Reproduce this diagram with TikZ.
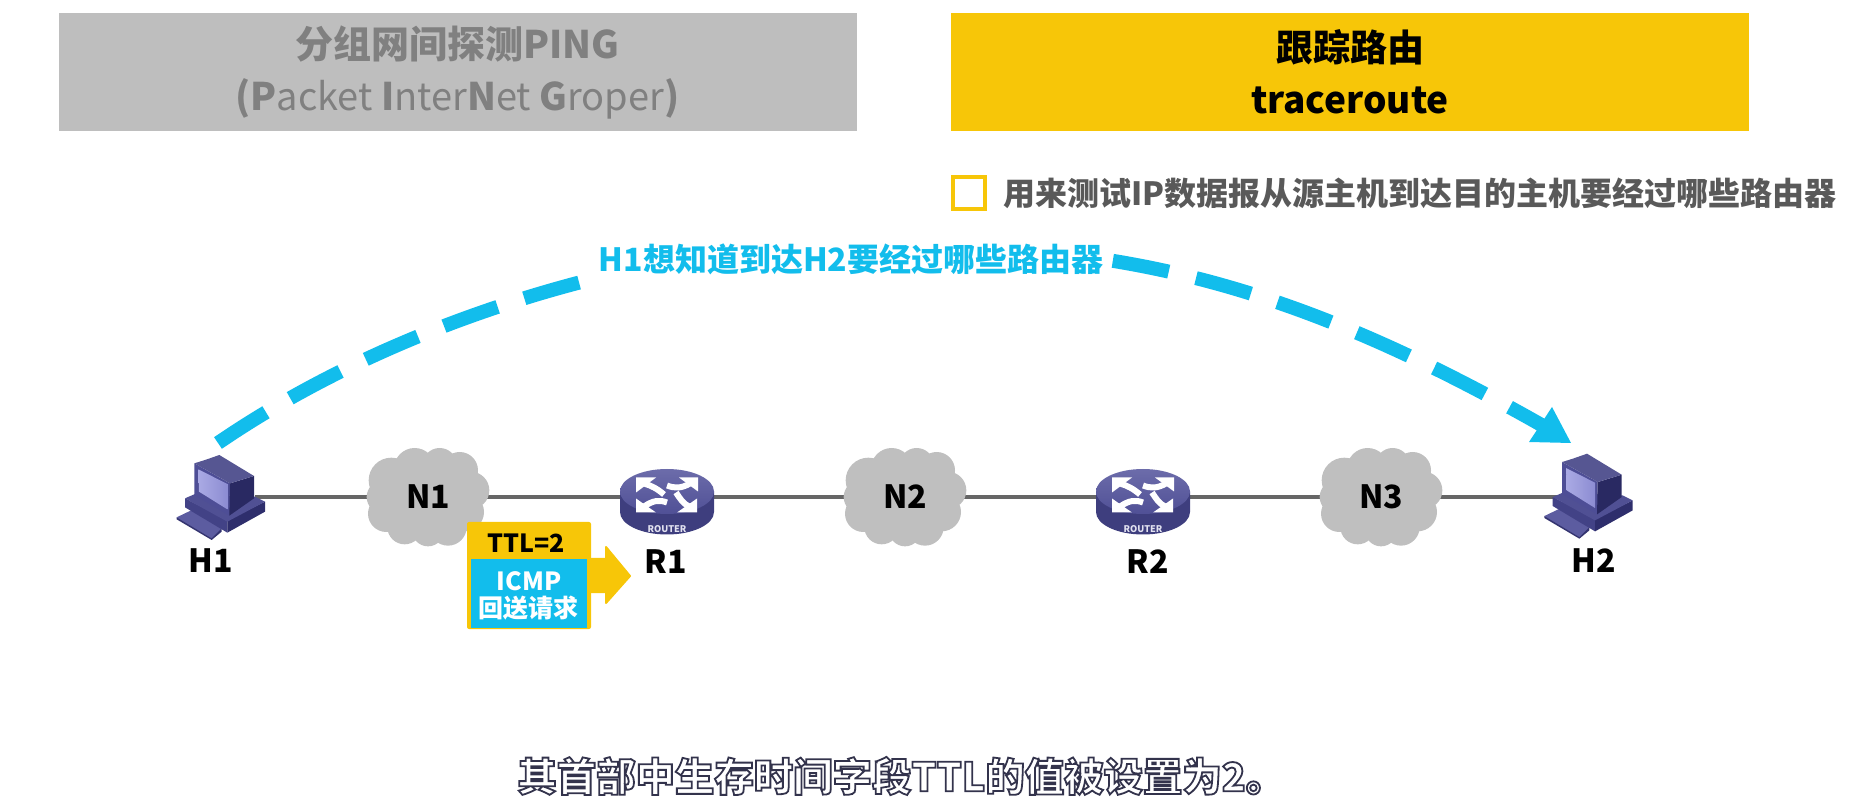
\documentclass[tikz,border=0pt]{standalone}
\usepackage{fontspec}
\setmainfont{Noto Sans CJK SC}
\definecolor{greybox}{HTML}{BEBEBE}
\definecolor{greytext}{HTML}{808080}
\definecolor{amber}{HTML}{F7C608}
\definecolor{skyb}{HTML}{12BDEC}
\definecolor{bodytext}{HTML}{595959}
\definecolor{wire}{HTML}{666666}
\definecolor{cloudg}{HTML}{BFBFBF}
\newcommand{\fsz}[2]{\fontsize{#1pt}{#2pt}\selectfont}
\tikzset{
  titlebox/.style={rectangle,minimum width=399pt,minimum height=59pt,inner sep=0pt,align=center,font=\fsz{19}{26}},
  netlabel/.style={inner sep=0pt,font=\bfseries\fsz{16}{20},text=black},
  wireline/.style={draw=wire,line width=2.4pt},
  bigarc/.style={draw=skyb,line width=7pt,dash pattern=on 28.5pt off 14pt},
  pktlabel/.style={inner sep=0pt,font=\bfseries\fsz{12.5}{15}},
  routertext/.style={inner sep=0pt,text={rgb,255:red,225;green,225;blue,240},font=\bfseries\fsz{4.6}{5}},
  routertail/.style={draw=white,line width=3pt},
}
\newcommand{\computer}[2]{%
  \begin{scope}[shift={(#1,#2)},scale=1/3]
    \fill[fill={rgb,255:red,52;green,52;blue,112}] (80,292)--(80,298)--(185,360)--(215,335)--(215,325)--cycle;
    \fill[fill={rgb,255:red,92;green,92;blue,160}] (80,292)--(130,268)--(215,325)--(185,355)--cycle;
    \fill[fill={rgb,255:red,66;green,66;blue,134}] (105,235)--(105,262)--(232,338)--(232,300)--cycle;
    \fill[fill={rgb,255:red,46;green,46;blue,108}] (232,300)--(232,338)--(345,275)--(345,245)--cycle;
    \fill[fill={rgb,255:red,80;green,80;blue,148}] (105,235)--(135,222)--(315,230)--(345,245)--(232,305)--cycle;
    \fill[fill={rgb,255:red,78;green,78;blue,150}] (133,130)--(133,225)--(238,287)--(240,190)--cycle;
    \fill[fill={rgb,255:red,41;green,41;blue,98}] (240,190)--(312,168)--(312,235)--(238,287)--cycle;
    \fill[fill={rgb,255:red,86;green,86;blue,146}] (133,130)--(165,120)--(208,105)--(312,168)--(240,190)--cycle;
    \shade[left color={rgb,255:red,170;green,170;blue,228},right color={rgb,255:red,140;green,140;blue,210}] (145,148)--(147,215)--(232,268)--(232,192)--cycle;
  \end{scope}}
\newcommand{\cloudshape}[2]{%
  \begin{scope}[shift={(#1,#2)},scale=1/3]
    \fill[cloudg] (0,0) circle (125)
      (-110,-50) circle (68) (-40,-85) circle (62) (35,-95) circle (52) (95,-80) circle (55)
      (128,-20) circle (56) (110,45) circle (58) (60,90) circle (56) (0,100) circle (48)
      (-70,90) circle (52) (-125,50) circle (55) (-134,0) circle (50);
  \end{scope}}
\newcommand{\routershape}[2]{%
  \begin{scope}[shift={(#1,#2)}]
    \fill[fill={rgb,255:red,62;green,62;blue,126}] (-47,0)--(-47,20.5) arc[x radius=47,y radius=-22.5,start angle=180,end angle=360]--(47,0)--cycle;
    \shade[top color={rgb,255:red,108;green,108;blue,170},bottom color={rgb,255:red,80;green,80;blue,150}] (0,0) ellipse [x radius=47,y radius=22.5];
    \fill[white] (-31,-14)--(-11,-14)--(-31,1)--cycle;
    \draw[routertail] (-23,-8) .. controls (-16,-6) and (-10,-3) .. (-3,3);
    \fill[white] (31,-14)--(12,-14)--(31,0)--cycle;
    \draw[routertail] (23,-8) .. controls (14,-3) and (8,-3) .. (0,-6);
    \fill[white] (-31,21)--(-11,21)--(-31,7)--cycle;
    \draw[routertail] (-23,15) .. controls (-14,9) and (-8,8) .. (0,11);
    \fill[white] (30,21)--(10,21)--(30,7)--cycle;
    \draw[routertail] (22,15) .. controls (16,12) and (13,7) .. (9,1);
  \end{scope}}
\begin{document}
\begin{tikzpicture}[x=0.5pt,y=-0.5pt]
\useasboundingbox (0,0) rectangle (1873,801);
% header boxes
\node[titlebox,fill=greybox,text=greytext] (pingbox) at (457.5,72) {{\bfseries 分组网间探测PING}\\{\bfseries(P}acket {\bfseries I}nter{\bfseries N}et {\bfseries G}roper{\bfseries)}};
\node[titlebox,fill=amber,text=black,font=\bfseries\fsz{18.5}{26}] (tracebox) at (1350,72) {跟踪路由\\traceroute};
\node[draw=amber,line width=2pt,fill=white,minimum size=16pt,inner sep=0pt] (check) at (968.5,193) {};
\node[anchor=west,inner sep=0pt,text=bodytext,font=\bfseries\fsz{16}{18}] (desc) at (1003,193) {用来测试IP数据报从源主机到达目的主机要经过哪些路由器};
% named anchors
\coordinate (h1) at (255,497);
\coordinate (n1) at (428,497);
\coordinate (r1) at (667,497);
\coordinate (n2) at (905,497);
\coordinate (r2) at (1143,497);
\coordinate (n3) at (1381,497);
\coordinate (h2) at (1560,497);
\coordinate (arcstart) at (218,443);
\coordinate (arcapex) at (850,244);
\coordinate (arcend) at (1545,427);
\coordinate (tipa) at (1529,442);
\coordinate (tipb) at (1552,407);
\coordinate (tipc) at (1571,443);
% big arc
\draw[bigarc] (arcstart) .. controls (420,305) and (680,244) .. (arcapex) .. controls (1089,244) and (1257,263) .. (arcend);
\fill[skyb] (tipa)--(tipb)--(tipc)--cycle;
\node[fill=white,inner sep=0pt,text=skyb,font=\bfseries\fsz{16}{20},minimum width=256pt,minimum height=36pt] (arclabel) at (851,259) {H1想知道到达H2要经过哪些路由器};
% network
\draw[wireline] (h1)--(n1)--(r1)--(n2)--(r2)--(n3)--(h2);
\computer{150}{420}
\computer{1517.7}{418.7}
\cloudshape{428}{497}
\cloudshape{905}{497}
\cloudshape{1381}{497}
\routershape{667}{491.5}
\routershape{1143}{491.5}
\node[routertext] (rt1) at (667,529) {ROUTER};
\node[routertext] (rt2) at (1143,529) {ROUTER};
\node[netlabel] (n1t) at (428,497) {N1};
\node[netlabel] (n2t) at (905,497) {N2};
\node[netlabel] (n3t) at (1381,497) {N3};
\node[netlabel] (h1t) at (211,561) {H1};
\node[netlabel] (r1t) at (666,562) {R1};
\node[netlabel] (r2t) at (1148,562) {R2};
\node[netlabel] (h2t) at (1594,561) {H2};
% packet
\fill[amber,draw=amber,line width=1pt,line join=round] (585,559)--(606,559)--(606,547)--(630,576)--(606,603)--(606,592)--(585,592)--cycle;
\node[fill=amber,rounded corners=1pt,minimum width=62pt,minimum height=53.5pt,inner sep=0pt] (pkt) at (529,575.5) {};
\node[fill=skyb,minimum width=58pt,minimum height=34.5pt,inner sep=0pt] (pktbody) at (529,593.5) {};
\node[pktlabel,text=black] (ttl) at (526,543) {TTL=2};
\node[pktlabel,text=white] (icmp) at (529,581) {ICMP};
\node[pktlabel,text=white] (echo) at (528,608) {回送请求};
% subtitle
\node[inner sep=0pt,anchor=west,text=white,font=\bfseries\fsz{19.7}{24}] (sub) at (517,776) {\special{pdf:code 2 Tr 0.9 w 0.2 0.2 0.3 RG}其首部中生存时间字段TTL的值被设置为2。\special{pdf:code 0 Tr}};
\end{tikzpicture}
\end{document}
